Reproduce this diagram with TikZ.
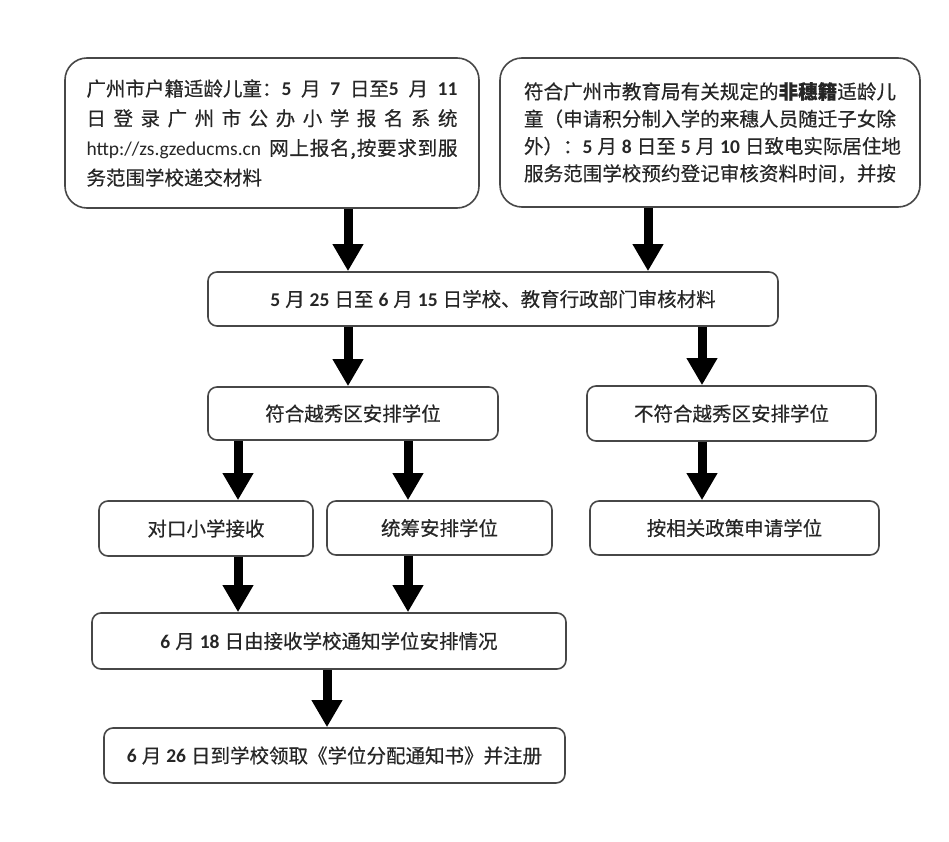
\documentclass[tikz,border=0pt]{standalone}
\usepackage{fontspec}
\setmainfont{Noto Sans CJK SC}[FakeBold=0.4]
\newfontfamily\lat{Carlito}
\usetikzlibrary{arrows.meta}
\newcommand\nm[1]{{\lat\bfseries #1}}
\newcommand\gap{\hskip 5pt\relax}
\newcommand\sk{\hskip 5pt plus 1fil\relax}
\newcommand\tline[2]{\hbox to #1{\spaceskip=0pt plus 1fil\xspaceskip=0pt plus 1fil\relax #2}}
\tikzset{
  box/.style={draw=black!72, line width=1.6pt, rounded corners=9pt, fill=white,
    inner sep=0pt, text=black!85, font=\fontsize{19.5pt}{23pt}\selectfont},
  bigbox/.style={box, rounded corners=22pt},
  arr/.style={line width=9pt, black, -{Triangle[width=29pt,length=27pt]}}
}
\begin{document}
\begin{tikzpicture}[x=1pt,y=-1pt]
\useasboundingbox (0,0) rectangle (949,842);
\fill[white] (0,0) rectangle (949,842);
% top boxes
\node[bigbox, minimum width=414pt, minimum height=150pt] (A) at (272,133)
 {\vbox{\baselineskip=29.7pt\lineskiplimit=-20pt
  \tline{371pt}{广州市户籍适龄儿童：\nm{5}\sk 月\sk\nm{7}\sk 日至\nm{5}\sk 月\sk\nm{11}}
  \tline{371pt}{日 登 录 广 州 市 公 办 小 学 报 名 系 统}
  \tline{371pt}{{\lat http://zs.gzeducms.cn}\hskip 8pt\relax 网 上 报 名 , 按 要 求 到 服}
  \tline{371pt}{务范围学校递交材料\hfil}}};
\node[bigbox, minimum width=420pt, minimum height=149pt] (B) at (710,132.5)
 {\raisebox{-1.5pt}{\vbox{\baselineskip=27.3pt\lineskiplimit=-20pt
  \tline{372pt}{符 合 广 州 市 教 育 局 有 关 规 定 的 {\bfseries 非 穗 籍} 适 龄 儿}
  \tline{372pt}{童 （ 申 请 积 分 制 入 学 的 来 穗 人 员 随 迁 子 女 除}
  \tline{372pt}{外 ） ：\nm{5}\sk 月\sk\nm{8}\sk 日 至\sk\nm{5}\sk 月\sk\nm{10}\sk 日 致 电 实 际 居 住 地}
  \tline{372pt}{服 务 范 围 学 校 预 约 登 记 审 核 资 料 时 间 ， 并 按}}}};
% middle
\node[box, minimum width=570pt, minimum height=54pt] (C) at (493,299)
 {\nm{5}\gap 月\gap\nm{25}\gap 日至\gap\nm{6}\gap 月\gap\nm{15}\gap 日学校、教育行政部门审核材料};
\node[box, minimum width=290pt, minimum height=53pt] (D) at (353,413.5) {符合越秀区安排学位};
\node[box, minimum width=289pt, minimum height=55pt] (E) at (731.5,413.5) {不符合越秀区安排学位};
\node[box, minimum width=214pt, minimum height=55pt] (F) at (206,528.5) {对口小学接收};
\node[box, minimum width=225pt, minimum height=54pt] (G) at (439.5,528) {统筹安排学位};
\node[box, minimum width=289pt, minimum height=54pt] (H) at (734.5,528) {按相关政策申请学位};
\node[box, minimum width=474pt, minimum height=56pt] (I) at (329,641)
 {\nm{6}\gap 月\gap\nm{18}\gap 日由接收学校通知学位安排情况};
\node[box, minimum width=461pt, minimum height=55pt] (J) at (334.5,755.5)
 {\nm{6}\gap 月\gap\nm{26}\gap 日到学校领取《学位分配通知书》并注册};
% arrow columns
\coordinate (xa) at (348,0);
\coordinate (xb) at (648,0);
\coordinate (xd) at (702,0);
\coordinate (xf) at (238,0);
\coordinate (xg) at (408,0);
\coordinate (xi) at (327,0);
\draw[arr] (A.south -| xa) -- (C.north -| xa);
\draw[arr] (B.south -| xb) -- (C.north -| xb);
\draw[arr] (C.south -| xa) -- (D.north -| xa);
\draw[arr] (C.south -| xd) -- (E.north -| xd);
\draw[arr] (E.south -| xd) -- (H.north -| xd);
\draw[arr] (D.south -| xf) -- (F.north -| xf);
\draw[arr] (D.south -| xg) -- (G.north -| xg);
\draw[arr] (F.south -| xf) -- (I.north -| xf);
\draw[arr] (G.south -| xg) -- (I.north -| xg);
\draw[arr] (I.south -| xi) -- (J.north -| xi);
\end{tikzpicture}
\end{document}
